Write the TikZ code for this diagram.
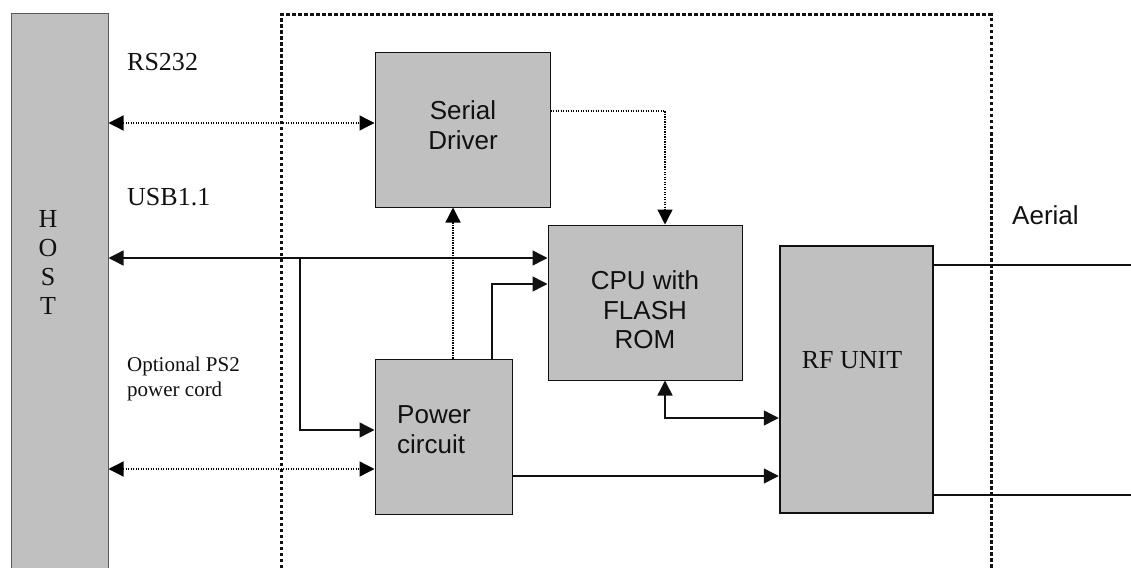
\documentclass[tikz,border=0pt]{standalone}
\usepackage{fontspec}
\setmainfont{Liberation Serif}
\newfontfamily\arialf{Liberation Sans}
\usetikzlibrary{arrows.meta}
\definecolor{boxgray}{HTML}{C0C0C0}
\definecolor{ink}{HTML}{111111}
\begin{document}
\begin{tikzpicture}[x=1pt,y=-1pt,
  box/.style={draw=ink, line width=1pt, fill=boxgray, inner sep=0pt},
  serif/.style={font=\fontsize{26}{30}\selectfont, text=ink, inner sep=0pt},
  sans/.style={font=\arialf\fontsize{26}{29.5}\selectfont, text=ink, inner sep=0pt},
  small/.style={font=\fontsize{21}{25}\selectfont, text=ink, inner sep=0pt, align=left},
  solidc/.style={line width=1.4pt, draw=ink},
  dotc/.style={line width=1.3pt, draw=black, dash pattern=on 1.3pt off 1.2pt},
  encl/.style={line width=3pt, draw=ink, dash pattern=on 3.5pt off 2.5pt},
  arr/.style={-{Triangle[length=15pt,width=15pt]}},
  barr/.style={{Triangle[length=15pt,width=15pt]}-{Triangle[length=15pt,width=15pt]}}
]
\useasboundingbox (0,0) rectangle (1131,567);
\clip (0,0) rectangle (1131,567);

% enclosure
\draw[encl] (281,580) -- (281,15) -- (991,15) -- (991,580);

% boxes
\node[box, draw=black!65, minimum width=97pt, minimum height=561pt] (host) at (59.5,294.5) {};
\node[serif, align=center, font=\fontsize{26}{29}\selectfont] (hosttext) at (48,262) {H\\O\\S\\T};
\node[box, minimum width=175pt, minimum height=154pt] (serial) at (462.5,130) {};
\node[sans, align=center] (serialtext) at (463,125) {Serial\\Driver};
\node[box, minimum width=194pt, minimum height=155pt] (cpu) at (645,302.5) {};
\node[sans, align=center] (cputext) at (645,310) {CPU with\\FLASH\\ROM};
\node[box, minimum width=137pt, minimum height=155pt] (power) at (443.5,436.5) {};
\node[sans, align=left, anchor=west, font=\arialf\fontsize{26}{30}\selectfont] (powertext) at (397,430) {Power\\circuit};
\node[box, line width=2.5pt, minimum width=153pt, minimum height=267pt] (rf) at (856.5,379.5) {};
\node[serif] (rftext) at (852,360) {RF UNIT};

% labels
\node[serif, anchor=west] (rs) at (127,62) {RS232};
\node[serif, anchor=west] (usb) at (127,197) {USB1.1};
\node[small, anchor=west] (ps2) at (127,378.5) {Optional PS2\\power cord};
\node[sans, anchor=west] (aerial) at (1012,215) {Aerial};

% coordinates
\coordinate (yrs) at (0,123);
\coordinate (ysd) at (0,111);
\coordinate (xsc) at (665,0);
\coordinate (yusb) at (0,258);
\coordinate (xbr) at (300,0);
\coordinate (ypw) at (0,430);
\coordinate (xp1) at (453,0);
\coordinate (xp2) at (492,0);
\coordinate (ypc) at (0,284);
\coordinate (ycr) at (0,418);
\coordinate (yprf) at (0,476);
\coordinate (yps) at (0,469);
\coordinate (a1) at (1131,265);
\coordinate (a2) at (1131,495);

% connectors
\draw[dotc, barr] (host.east |- yrs) -- (serial.west |- yrs);
\draw[dotc, arr] (serial.east |- ysd) -| (xsc |- cpu.north);
\draw[solidc, barr] (host.east |- yusb) -- (cpu.west |- yusb);
\draw[solidc, arr] (xbr |- yusb) |- (power.west |- ypw);
\draw[dotc, arr] (xp1 |- power.north) -- (xp1 |- serial.south);
\draw[solidc, arr] (xp2 |- power.north) |- (cpu.west |- ypc);
\draw[solidc, barr] (xsc |- cpu.south) |- (rf.west |- ycr);
\draw[solidc, arr] (power.east |- yprf) -- (rf.west |- yprf);
\draw[dotc, barr] (host.east |- yps) -- (power.west |- yps);
\draw[line width=1.2pt, draw=ink] (rf.east |- a1) -- (a1);
\draw[line width=1.2pt, draw=ink] (rf.east |- a2) -- (a2);
\end{tikzpicture}
\end{document}
